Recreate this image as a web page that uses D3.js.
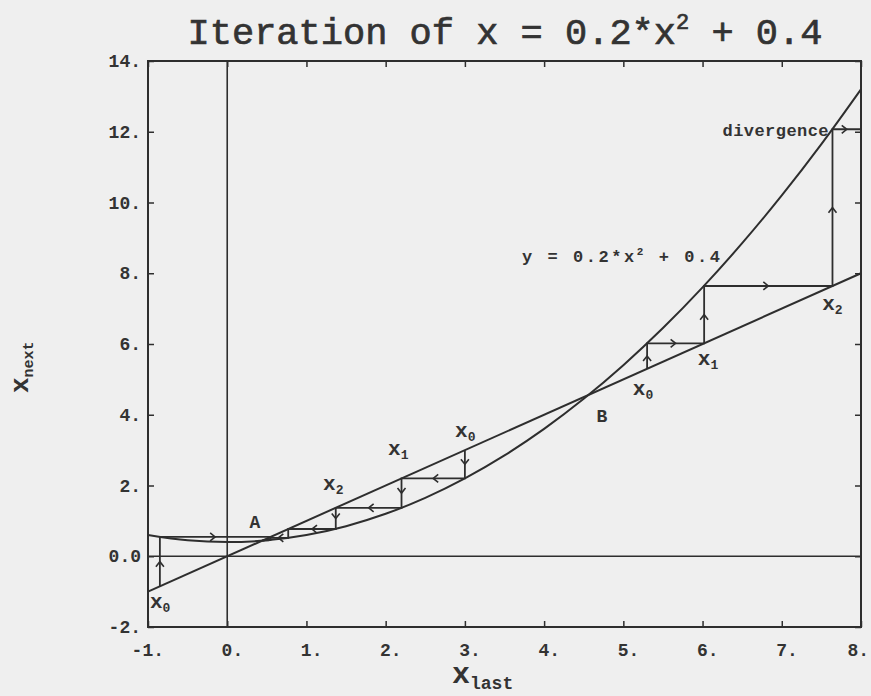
<!DOCTYPE html>
<html>
<head>
<meta charset="utf-8">
<script src="https://cdn.jsdelivr.net/npm/d3@7"></script>
<style>
body { margin: 0; background: #efefef; }
svg { display: block; }
text { font-family: "Liberation Mono", "DejaVu Sans Mono", monospace; fill: #333; }
</style>
</head>
<body>
<div id="chart"></div>
<script>
// tick values
const xTicks = [-1, 0, 1, 2, 3, 4, 5, 6, 7, 8];
const yTicks = [-2, 0, 2, 4, 6, 8, 10, 12, 14];
// the parabola y = 0.2*x^2 + 0.4, read at half steps
const curveX = [-1, -0.5, 0, 0.5, 1, 1.5, 2, 2.5, 3, 3.5, 4, 4.5, 5, 5.5, 6, 6.5, 7, 7.5, 8];
const curveY = [0.6, 0.45, 0.4, 0.45, 0.6, 0.85, 1.2, 1.65, 2.2, 2.85, 3.6, 4.45, 5.4, 6.45, 7.6, 8.85, 10.2, 11.65, 13.2];
// the line y = x
const diagX = [-1, 8];
const diagY = [-1, 8];
// iterates of the three cobwebs
const leftSteps = [-0.85, 0.545, 0.46, 0.44];
const midSteps = [3.0, 2.2, 1.37, 0.77, 0.52, 0.45];
const rightSteps = [5.3, 6.02, 7.64, 12.07];
const rightExit = 8;
// labels: text, subscript, x, y (data units)
const pointLabels = [
    ["x", "0", -0.975, -1.47],
    ["x", "0", 2.876, 3.36],
    ["x", "1", 2.03, 2.85],
    ["x", "2", 1.21, 1.86],
    ["x", "0", 5.12, 4.55],
    ["x", "1", 5.94, 5.40],
    ["x", "2", 7.51, 6.95]
];
const fixedLabels = [["A", 0.35, 0.79], ["B", 4.73, 3.79]];

const width = 871, height = 696;
const plotLeft = 148, plotRight = 861, plotTop = 61, plotBottom = 627;
const ink = "#2e2e2e";

const svg = d3.select("#chart").append("svg")
    .attr("width", width)
    .attr("height", height);

const x = d3.scaleLinear().domain([-1, 8]).range([plotLeft, plotRight]);
const y = d3.scaleLinear().domain([-2, 14]).range([plotBottom, plotTop]);

// title
const title = svg.append("text")
    .attr("x", 505)
    .attr("y", 44)
    .attr("text-anchor", "middle")
    .style("font-size", "37px")
    .style("stroke", "#333").style("stroke-width", 0.7);
title.append("tspan").text("Iteration of x = 0.2*x");
title.append("tspan").attr("dy", -15).style("font-size", "22px").text("2");
title.append("tspan").attr("dy", 15).text(" + 0.4");

// frame
svg.append("rect")
    .attr("x", plotLeft).attr("y", plotTop)
    .attr("width", plotRight - plotLeft).attr("height", plotBottom - plotTop)
    .style("fill", "none").style("stroke", ink).style("stroke-width", 2);

// inward ticks on every side
const tick = 6;
svg.append("g").attr("transform", "translate(0," + plotBottom + ")")
    .call(d3.axisBottom(x).tickValues(xTicks).tickSize(-tick).tickFormat(""));
svg.append("g").attr("transform", "translate(0," + plotTop + ")")
    .call(d3.axisTop(x).tickValues(xTicks).tickSize(-tick).tickFormat(""));
svg.append("g").attr("transform", "translate(" + plotLeft + ",0)")
    .call(d3.axisLeft(y).tickValues(yTicks).tickSize(-tick).tickFormat(""));
svg.append("g").attr("transform", "translate(" + plotRight + ",0)")
    .call(d3.axisRight(y).tickValues(yTicks).tickSize(-tick).tickFormat(""));
svg.selectAll(".domain").remove();
svg.selectAll(".tick line").style("stroke", ink).style("stroke-width", 1.5);

// tick labels
svg.selectAll(".xlab")
    .data(xTicks).enter()
    .append("text")
    .attr("class", "xlab")
    .attr("x", (d) => Math.min(x(d) + 16, 869))
    .attr("y", 656)
    .attr("text-anchor", "end")
    .style("font-size", "18px")
    .style("font-weight", "bold")
    .text((d) => d + ".");
svg.selectAll(".ylab")
    .data(yTicks).enter()
    .append("text")
    .attr("class", "ylab")
    .attr("x", 141)
    .attr("y", (d) => y(d) + 6)
    .attr("text-anchor", "end")
    .style("font-size", "18px")
    .style("font-weight", "bold")
    .text((d) => d == 0 ? "0.0" : d + ".");

// axis titles
const xt = svg.append("text").attr("x", 452).attr("y", 683).style("font-weight", "bold");
xt.append("tspan").style("font-size", "30px").text("x");
xt.append("tspan").attr("dy", 6).style("font-size", "18px").text("last");
const yt = svg.append("text")
    .attr("transform", "translate(28,393) rotate(-90)")
    .style("font-weight", "bold");
yt.append("tspan").style("font-size", "26px").text("x");
yt.append("tspan").attr("dy", 5).style("font-size", "15px").text("next");

// zero lines
svg.append("line")
    .attr("x1", x(0)).attr("x2", x(0)).attr("y1", plotTop).attr("y2", plotBottom)
    .style("stroke", ink).style("stroke-width", 1.6);
svg.append("line")
    .attr("x1", plotLeft).attr("x2", plotRight).attr("y1", y(0)).attr("y2", y(0))
    .style("stroke", ink).style("stroke-width", 1.6);

// curve and diagonal
const line = d3.line().x((d) => x(d[0])).y((d) => y(d[1]));
svg.append("path")
    .attr("d", line.curve(d3.curveMonotoneX)(curveX.map((v, i) => [v, curveY[i]])))
    .style("fill", "none").style("stroke", ink).style("stroke-width", 2);
svg.append("path")
    .attr("d", d3.line().x((d) => x(d[0])).y((d) => y(d[1]))(diagX.map((v, i) => [v, diagY[i]])))
    .style("fill", "none").style("stroke", ink).style("stroke-width", 2);

// cobwebs
function cobweb(steps, exit) {
    let pts = [[steps[0], steps[0]]];
    for (let i = 1; i < steps.length; i++) {
        pts.push([steps[i - 1], steps[i]]);
        if (i < steps.length - 1 || exit === undefined) pts.push([steps[i], steps[i]]);
    }
    if (exit !== undefined) pts.push([exit, steps[steps.length - 1]]);
    return pts;
}
const straight = d3.line().x((d) => x(d[0])).y((d) => y(d[1]));
[cobweb(leftSteps), cobweb(midSteps), cobweb(rightSteps, rightExit)].forEach((pts) => {
    svg.append("path")
        .attr("d", straight(pts))
        .style("fill", "none").style("stroke", ink).style("stroke-width", 1.8);
    // direction marks in the middle of each longer segment
    for (let i = 1; i < pts.length; i++) {
        let x1 = x(pts[i - 1][0]), y1 = y(pts[i - 1][1]);
        let x2 = x(pts[i][0]), y2 = y(pts[i][1]);
        let len = Math.hypot(x2 - x1, y2 - y1);
        if (len < 14) continue;
        let dx = (x2 - x1) / len, dy = (y2 - y1) / len;
        let mx = (x1 + x2) / 2, my = (y1 + y2) / 2;
        let a = 5, b = 4;
        svg.append("path")
            .attr("d", "M" + (mx - dx * a - dy * b) + "," + (my - dy * a + dx * b) +
                "L" + mx + "," + my +
                "L" + (mx - dx * a + dy * b) + "," + (my - dy * a - dx * b))
            .style("fill", "none").style("stroke", ink).style("stroke-width", 1.6);
    }
});

// point labels
pointLabels.forEach((d) => {
    let t = svg.append("text")
        .attr("x", x(d[2])).attr("y", y(d[3]))
        .style("font-weight", "bold");
    t.append("tspan").style("font-size", "21px").text(d[0]);
    t.append("tspan").attr("dy", 4).style("font-size", "13px").text(d[1]);
});
fixedLabels.forEach((d) => {
    svg.append("text")
        .attr("x", x(d[1])).attr("y", y(d[2]))
        .attr("text-anchor", "middle")
        .style("font-size", "18px")
        .style("font-weight", "bold")
        .text(d[0]);
});

// curve label
const cl = svg.append("text")
    .attr("x", x(3.72)).attr("y", y(8.33))
    .attr("textLength", 198).attr("lengthAdjust", "spacing")
    .style("font-size", "17px").style("font-weight", "bold");
cl.append("tspan").text("y = 0.2*x");
cl.append("tspan").attr("dy", -7).style("font-size", "11px").text("2");
cl.append("tspan").attr("dy", 7).text(" + 0.4");

svg.append("text")
    .attr("x", x(7.59)).attr("y", y(11.89))
    .attr("text-anchor", "end")
    .style("font-size", "17px").style("font-weight", "bold")
    .attr("textLength", 106).attr("lengthAdjust", "spacing")
    .text("divergence");
</script>
</body>
</html>
